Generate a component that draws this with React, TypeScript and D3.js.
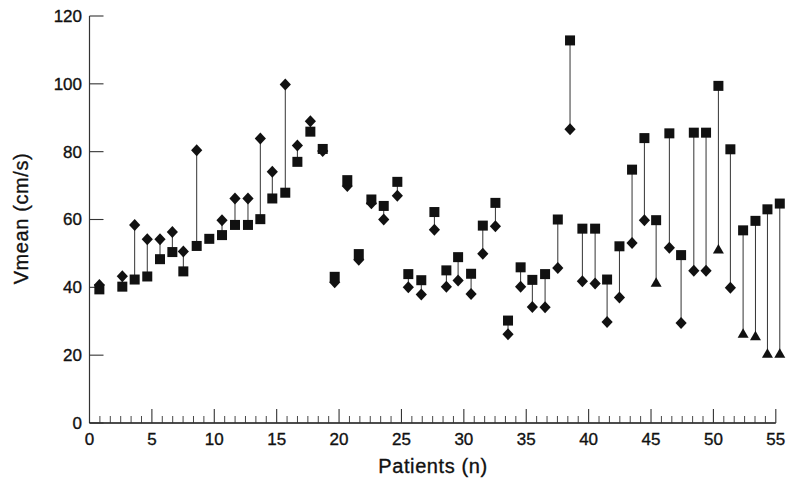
import React from "react";
import * as d3 from "d3";

// Patient positions on the x axis (as drawn in the figure)
const patientPos = [
  0.79, 2.63, 3.62, 4.63, 5.65, 6.64, 7.52, 8.59, 9.6, 10.62,
  11.66, 12.7, 13.69, 14.65, 15.69, 16.66, 17.7, 18.69, 19.65, 20.66,
  21.58, 22.59, 23.58, 24.67, 25.55, 26.59, 27.64, 28.6, 29.54, 30.58,
  31.52, 32.53, 33.54, 34.55, 35.49, 36.51, 37.53, 38.51, 39.5, 40.52,
  41.48, 42.47, 43.48, 44.47, 45.41, 46.47, 47.41, 48.43, 49.41, 50.4,
  51.36, 52.38, 53.37, 54.33, 55.32,
];

// Square markers (Vmean)
const squareVals = [
  39.4, 40.2, 42.3, 43.2, 48.3, 50.4, 44.7, 52.2, 54.3, 55.4,
  58.4, 58.4, 60.1, 66.2, 67.9, 77, 85.9, 80.8, 43.1, 71.6,
  49.8, 65.9, 64, 71.1, 43.9, 42.1, 62.2, 45, 48.9, 44,
  58.2, 64.9, 30.2, 45.9, 42.2, 43.9, 60, 112.8, 57.3, 57.3,
  42.3, 52.1, 74.7, 84, 59.8, 85.4, 49.5, 85.6, 85.6, 99.4,
  80.7, 56.8, 59.6, 63, 64.7,
];

// Diamond markers (Vmean, second measurement)
const diamondVals: (number | null)[] = [
  40.7, 43.3, 58.4, 54.2, 54.2, 56.3, 50.6, 80.4, null, 59.8,
  66.2, 66.2, 83.9, 74.1, 99.8, 81.8, 89, 80.2, 41.5, 69.9,
  48.1, 64.8, 60, 67, 40, 37.9, 57, 40.2, 42, 38,
  49.9, 58, 26.2, 40.2, 34.2, 34.1, 45.7, 86.6, 41.8, 41.1,
  29.8, 37, 53.1, 59.8, null, 51.7, 29.5, 44.9, 44.9, null,
  39.9, null, null, null, null,
];

// Triangle markers
const triangleVals: (number | null)[] = [
  null, null, null, null, null, null, null, null, null, null,
  null, null, null, null, null, null, null, null, null, null,
  null, null, null, null, null, null, null, null, null, null,
  null, null, null, null, null, null, null, null, null, null,
  null, null, null, null, 41.2, null, null, null, null, 51,
  null, 26.2, 25.4, 20.3, 20.3,
];

const yTicks = [0, 20, 40, 60, 80, 100, 120];
const xTicks = [0, 5, 10, 15, 20, 25, 30, 35, 40, 45, 50, 55];

const FONT = "'Liberation Sans', Arial, Helvetica, sans-serif";
const INK = "#111";
const AXIS = "#333";

export default function App() {
  const x = d3.scaleLinear().domain([0, 55]).range([89.5, 775.8]);
  const y = d3.scaleLinear().domain([0, 120]).range([423, 16]);

  const minorTicks: number[] = [];
  for (let i = 0; i < 11; i++) {
    for (let j = 1; j <= 5; j++) minorTicks.push(i * 5 + (j * 5) / 6);
  }

  const diamondPath = (cx: number, cy: number) =>
    `M${cx},${cy - 6}L${cx + 5.6},${cy}L${cx},${cy + 6}L${cx - 5.6},${cy}Z`;
  const trianglePath = (cx: number, cy: number) =>
    `M${cx},${cy - 6}L${cx + 5.5},${cy + 3.5}L${cx - 5.5},${cy + 3.5}Z`;

  const textStyle = { stroke: INK, strokeWidth: 0.35 };

  return (
    <svg
      width={787}
      height={482}
      style={{ position: "absolute", left: 0, top: 0, background: "#fff" }}
      fontFamily={FONT}
    >
      {/* axes */}
      <line x1={x(0)} x2={x(0)} y1={y(0)} y2={y(120)} stroke={AXIS} strokeWidth={1.2} />
      <line x1={x(0)} x2={x(55)} y1={y(0)} y2={y(0)} stroke={INK} strokeWidth={1.3} />
      {yTicks.map((t) => (
        <g key={"yt" + t}>
          <line x1={x(0)} x2={x(0) + 14} y1={y(t)} y2={y(t)} stroke={AXIS} strokeWidth={1.1} />
          <text x={82} y={y(t)} dy="0.35em" textAnchor="end" fontSize={17} fill={INK} style={textStyle}>
            {t}
          </text>
        </g>
      ))}
      {xTicks.map((t) => (
        <g key={"xt" + t}>
          {t > 0 && (
            <line x1={x(t)} x2={x(t)} y1={y(0)} y2={y(0) - 14} stroke={AXIS} strokeWidth={1.1} />
          )}
          <text x={x(t)} y={445} textAnchor="middle" fontSize={17} fill={INK} style={textStyle}>
            {t}
          </text>
        </g>
      ))}
      {minorTicks.map((t, i) => (
        <line key={"mt" + i} x1={x(t)} x2={x(t)} y1={y(0)} y2={y(0) - 7} stroke={AXIS} strokeWidth={0.9} />
      ))}

      {/* axis titles */}
      <text x={433} y={473} textAnchor="middle" fontSize={20} fill={INK} letterSpacing={0.6} style={textStyle}>
        Patients (n)
      </text>
      <text
        transform={`translate(28,218.5) rotate(-90)`}
        textAnchor="middle"
        fontSize={20}
        fill={INK}
        letterSpacing={0.6}
        style={textStyle}
      >
        Vmean (cm/s)
      </text>

      {/* connecting lines */}
      {patientPos.map((p, i) => {
        const other = diamondVals[i] ?? triangleVals[i];
        if (other == null) return null;
        return (
          <line
            key={"ln" + i}
            x1={x(p)}
            x2={x(p)}
            y1={y(squareVals[i])}
            y2={y(other)}
            stroke={AXIS}
            strokeWidth={1}
          />
        );
      })}

      {/* diamonds */}
      {patientPos.map((p, i) =>
        diamondVals[i] == null ? null : (
          <path key={"d" + i} d={diamondPath(x(p), y(diamondVals[i] as number))} fill={INK} />
        )
      )}
      {/* triangles */}
      {patientPos.map((p, i) =>
        triangleVals[i] == null ? null : (
          <path key={"t" + i} d={trianglePath(x(p), y(triangleVals[i] as number))} fill={INK} />
        )
      )}
      {/* squares */}
      {patientPos.map((p, i) => (
        <rect
          key={"s" + i}
          x={x(p) - 5}
          y={y(squareVals[i]) - 5}
          width={10}
          height={10}
          fill={INK}
        />
      ))}
    </svg>
  );
}
